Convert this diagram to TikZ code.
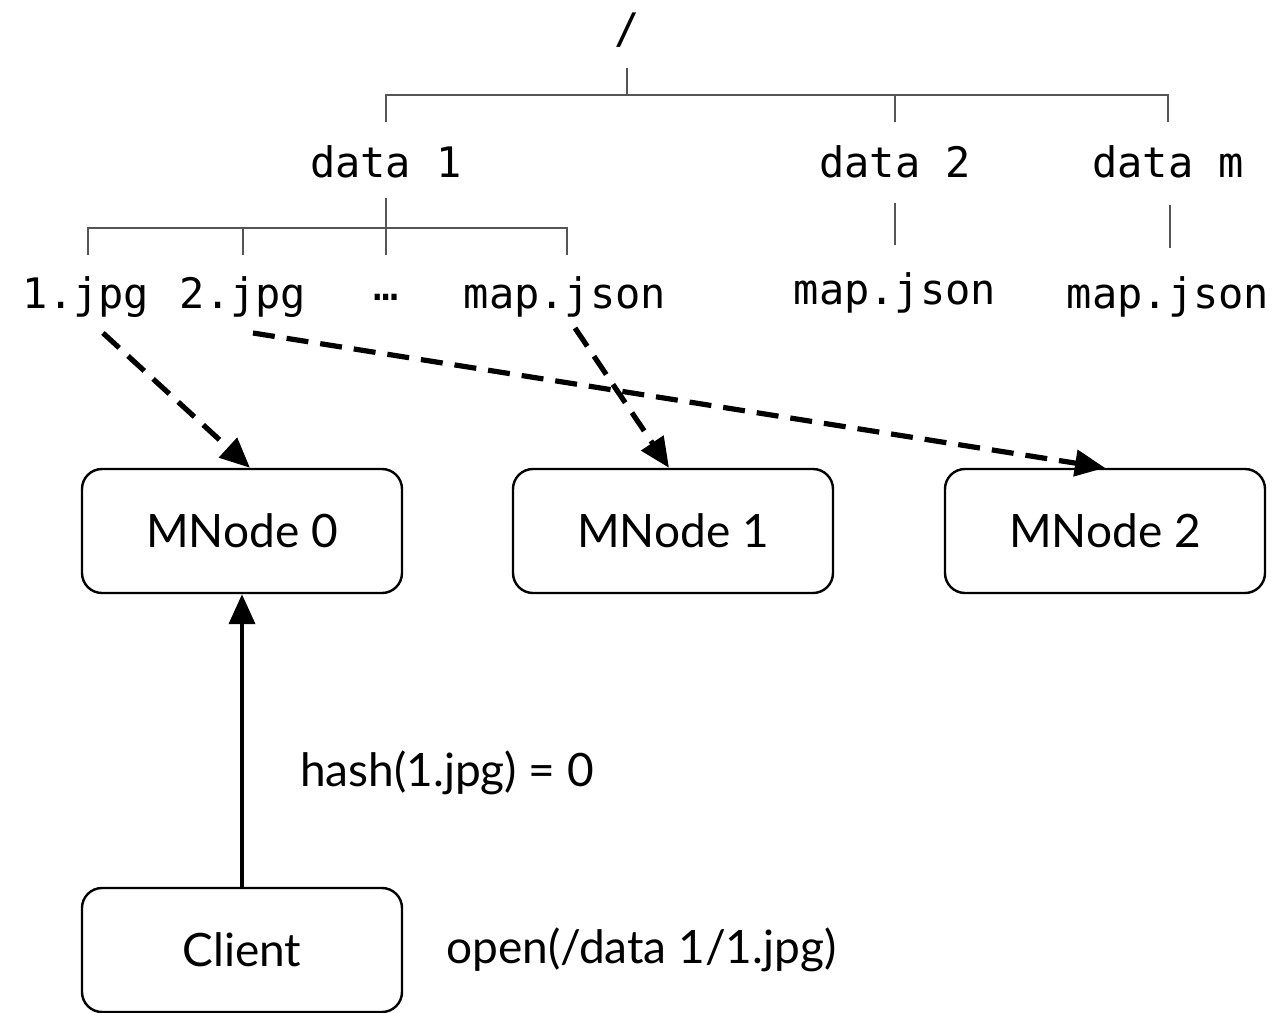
\documentclass[tikz,border=0pt]{standalone}
\usepackage{fontspec}
\setmainfont{Lato}
\newfontfamily\treefont{DejaVu Sans Mono}
\usepackage{tikz}
\usetikzlibrary{arrows.meta, positioning, calc}
\definecolor{treegray}{HTML}{555555}

\begin{document}
\begin{tikzpicture}[x=0.5pt, y=-0.5pt, >={Triangle[length=15pt, width=13pt]},
    dir/.style={font=\treefont\fontsize{21}{25}\selectfont, inner sep=0pt},
    treeline/.style={draw=treegray, line width=1pt},
    mnode/.style={draw, line width=1.2pt, rounded corners=10pt, minimum width=160pt,
        minimum height=62pt, font=\fontsize{23}{28}\selectfont},
    lbl/.style={font=\fontsize{23}{28}\selectfont},
    lookup/.style={->, line width=2.6pt, dash pattern=on 11pt off 6pt},
    call/.style={->, line width=2pt}]
    \useasboundingbox (0,0) rectangle (1281,1013);

    % ── DIRECTORY TREE ────────────────────────────────────────────────
    \node[dir] (root) at (627, 30) {/};
    \node[dir] (d1) at (386, 162) {data 1};
    \node[dir] (d2) at (895, 162) {data 2};
    \node[dir] (dm) at (1168, 162) {data m};

    \node[dir] (f1) at (86, 297) {1.jpg};
    \node[dir] (f2) at (243, 297) {2.jpg};
    \node[dir] (fdots) at (386, 297) {\ldots};
    \node[dir] (fmap) at (565, 297) {map.json};
    \node[dir] (map2) at (895, 293) {map.json};
    \node[dir] (mapm) at (1168, 297) {map.json};

    \draw[treeline] ($(root)+(0,38)$) -- ($(root)+(0,65)$);
    \draw[treeline] ($(d1)+(0,-40)$) -- ($(d1)+(0,-67)$) -| ($(dm)+(0,-40)$);
    \draw[treeline] ($(d2)+(0,-67)$) -- ($(d2)+(0,-40)$);

    \draw[treeline] ($(d1)+(0,36)$) -- ($(d1)+(0,93)$);
    \draw[treeline] ($(f1)+(2,-42)$) -- ($(f1)+(2,-69)$) -| ($(fmap)+(2,-42)$);
    \draw[treeline] ($(f2)+(0,-69)$) -- ($(f2)+(0,-42)$);

    \draw[treeline] ($(d2)+(0,41)$) -- ($(d2)+(0,83)$);
    \draw[treeline] ($(dm)+(2,43)$) -- ($(dm)+(2,86)$);

    % ── META NODES ────────────────────────────────────────────────────
    \node[mnode] (mn0) at (242, 531) {MNode 0};
    \node[mnode] (mn1) at (673, 531) {MNode 1};
    \node[mnode] (mn2) at (1105, 531) {MNode 2};

    % lookups from the files to their meta node
    \coordinate (s1) at ($(f1)+(17,36)$);
    \coordinate (s2) at ($(f2)+(10,36)$);
    \coordinate (smap) at ($(fmap)+(10,31)$);
    \draw[lookup] (s1) -- ($(mn0.north)+(8,0)$);
    \draw[lookup] (s2) -- (mn2.north);
    \draw[lookup] (smap) -- ($(mn1.north)+(-4,0)$);

    % ── CLIENT ────────────────────────────────────────────────────────
    \node[mnode] (cl) at (242, 950) {Client};
    \node[lbl, right=18pt of cl] (open) {open(/data 1/1.jpg)};
    \node[lbl] (hash) at (447, 773) {hash(1.jpg) = 0};
    \draw[call] (cl.north) -- (mn0.south);
\end{tikzpicture}
\end{document}
